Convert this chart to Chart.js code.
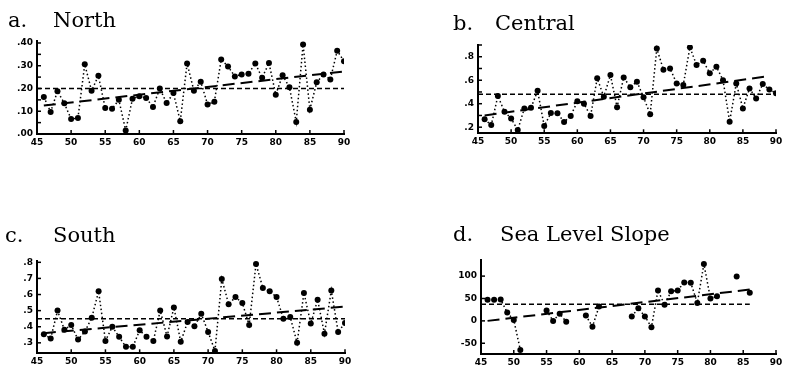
<!DOCTYPE html>
<html><head><meta charset="utf-8">
<script src="https://cdn.jsdelivr.net/npm/chart.js@4.4.0/dist/chart.umd.min.js"></script>
<style>
html,body{margin:0;padding:0;background:#fff;width:786px;height:371px;overflow:hidden;position:relative;}
canvas{position:absolute;}
.t{position:absolute;font-family:"DejaVu Serif",serif;font-size:21px;color:#000;line-height:1;white-space:nowrap;z-index:2;}
</style></head><body>
<div class="t" style="left:8px;top:10px">a.</div>
<div class="t" style="left:53px;top:10px">North</div>
<div class="t" style="left:453px;top:13px">b.</div>
<div class="t" style="left:495px;top:13px">Central</div>
<div class="t" style="left:5px;top:225px">c.</div>
<div class="t" style="left:53px;top:225px">South</div>
<div class="t" style="left:453px;top:224px">d.</div>
<div class="t" style="left:500px;top:224px">Sea Level Slope</div>
<canvas id="cA" width="393" height="135" style="left:0;top:25px"></canvas>
<canvas id="cB" width="393" height="130" style="left:393px;top:30px"></canvas>
<canvas id="cC" width="393" height="126" style="left:0;top:245px"></canvas>
<canvas id="cD" width="393" height="126" style="left:393px;top:245px"></canvas>
<script>
// ---- data ----
const years = [46,47,48,49,50,51,52,53,54,55,56,57,58,59,60,61,62,63,64,65,66,67,68,69,70,71,72,73,74,75,76,77,78,79,80,81,82,83,84,85,86,87,88,89,90];
const north = [0.163,0.097,0.188,0.135,0.066,0.070,0.306,0.190,0.256,0.114,0.111,0.150,0.015,0.155,0.166,0.158,0.119,0.200,0.136,0.180,0.056,0.310,0.190,0.230,0.130,0.142,0.327,0.297,0.253,0.262,0.265,0.310,0.247,0.312,0.173,0.258,0.205,0.053,0.393,0.107,0.227,0.262,0.240,0.366,0.320];
const central = [0.267,0.218,0.465,0.332,0.275,0.176,0.360,0.365,0.510,0.210,0.320,0.318,0.245,0.295,0.420,0.400,0.295,0.616,0.460,0.644,0.370,0.624,0.540,0.588,0.454,0.310,0.870,0.690,0.700,0.573,0.560,0.880,0.730,0.766,0.660,0.715,0.600,0.247,0.573,0.360,0.530,0.445,0.567,0.520,0.490];
const south = [0.353,0.327,0.500,0.382,0.410,0.320,0.370,0.456,0.620,0.312,0.400,0.337,0.275,0.275,0.378,0.337,0.312,0.500,0.340,0.520,0.306,0.430,0.403,0.480,0.368,0.250,0.697,0.540,0.584,0.547,0.410,0.790,0.640,0.620,0.584,0.450,0.460,0.300,0.610,0.420,0.567,0.357,0.625,0.368,0.423];
const seaSlope = [47,47,48,18.5,2,-65,null,null,null,23,0,16,-2,null,null,12,-13,32,null,null,null,null,10,28,10,-14,68,36,66,68,86,85,40,127,50,55,null,null,99,null,63,null,null,null,null];

const northMean = 0.20,  northMeanSpan = [45, 90];
const centralMean = 0.48, centralMeanSpan = [45, 90];
const southMean = 0.45, southMeanSpan = [45, 90];
const slopeMean = 37, slopeMeanSpan = [45, 86];

const northTrend = [0.125, 0.275], northTrendSpan = [46, 90];
const centralTrend = [0.30, 0.635], centralTrendSpan = [46, 89];
const southTrend = [0.36, 0.525], southTrendSpan = [46, 90];
const slopeTrend = [0, 70], slopeTrendSpan = [46, 86];

const xTicks = [45,50,55,60,65,70,75,80,85,90];
const northTicks = [0, 0.1, 0.2, 0.3, 0.4];
const northMinor = [0, 0.05, 0.1, 0.15, 0.2, 0.25, 0.3, 0.35, 0.4];
const centralTicks = [0.2, 0.4, 0.6, 0.8];
const centralMinor = [0.2, 0.3, 0.4, 0.5, 0.6, 0.7, 0.8, 0.9];
const southTicks = [0.3, 0.4, 0.5, 0.6, 0.7, 0.8];
const slopeTicks = [-50, 0, 50, 100];

// ---- drawing ----
const innerTicks = {
  id: 'innerTicks',
  afterDatasetsDraw(chart, args, opts) {
    const {ctx, chartArea: a, scales: {x, y}} = chart;
    ctx.save();
    ctx.strokeStyle = '#000';
    ctx.lineWidth = 1.5;
    (opts.y || []).forEach(v => {
      const py = y.getPixelForValue(v);
      ctx.beginPath(); ctx.moveTo(a.left, py); ctx.lineTo(a.left + 4, py); ctx.stroke();
    });
    (opts.x || []).forEach(v => {
      const px = x.getPixelForValue(v);
      ctx.beginPath(); ctx.moveTo(px, a.bottom); ctx.lineTo(px, a.bottom - 4); ctx.stroke();
    });
    ctx.restore();
  }
};

const tickFont = {family: 'DejaVu Sans', weight: 'bold', size: 9};

function makePanel(id, g) {
  const pts = years.map((yr, i) => ({x: yr, y: g.values[i]}));
  new Chart(document.getElementById(id), {
    type: 'line',
    data: {
      datasets: [
        {data: pts, borderColor: '#000', backgroundColor: '#000', borderWidth: 1.5,
         borderDash: [1.5, 2.5], pointRadius: 3, pointBorderWidth: 0, pointBackgroundColor: '#000',
         spanGaps: g.span, tension: 0},
        {data: [{x: g.meanSpan[0], y: g.mean}, {x: g.meanSpan[1], y: g.mean}],
         borderColor: '#000', borderWidth: 1.6, borderDash: [5, 3], pointRadius: 0},
        {data: [{x: g.trendSpan[0], y: g.trend[0]}, {x: g.trendSpan[1], y: g.trend[1]}],
         borderColor: '#000', borderWidth: 2, borderDash: [12, 6], pointRadius: 0}
      ]
    },
    options: {
      responsive: false, animation: false, events: [],
      layout: {padding: {top: g.padTop, right: g.padRight, left: 0, bottom: 0}},
      plugins: {legend: {display: false}, tooltip: {enabled: false}, innerTicks: {x: xTicks, y: g.minor}},
      scales: {
        x: {type: 'linear', min: 45, max: 90,
            afterBuildTicks: s => { s.ticks = xTicks.map(v => ({value: v})); },
            afterFit: s => { s.height = g.xh; },
            grid: {display: false, drawTicks: false},
            border: {display: true, color: '#000', width: 2},
            ticks: {padding: 3, color: '#000', font: tickFont, maxRotation: 0, autoSkip: false}},
        y: {type: 'linear', min: g.min, max: g.max,
            afterBuildTicks: s => { s.ticks = g.ticks.map(v => ({value: v})); },
            afterFit: s => { s.width = g.yw; },
            grid: {display: false, drawTicks: false},
            border: {display: true, color: '#000', width: 2},
            ticks: {padding: 4, color: '#000', font: tickFont, autoSkip: false, callback: g.fmt}}
      }
    },
    plugins: [innerTicks]
  });
}

const fmt2 = v => v.toFixed(2).replace(/^0/, '');
const fmt1 = v => v.toFixed(1).replace(/^0/, '');
const fmt0 = v => String(v);

makePanel('cA', {values: north, span: false, mean: northMean, meanSpan: northMeanSpan, trend: northTrend, trendSpan: northTrendSpan,
  min: 0, max: 0.41, ticks: northTicks, minor: northMinor, fmt: fmt2, padTop: 15.7, padRight: 49, yw: 37, xh: 26});
makePanel('cB', {values: central, span: false, mean: centralMean, meanSpan: centralMeanSpan, trend: centralTrend, trendSpan: centralTrendSpan,
  min: 0.148, max: 0.9, ticks: centralTicks, minor: centralMinor, fmt: fmt1, padTop: 15, padRight: 10, yw: 85, xh: 26.7});
makePanel('cC', {values: south, span: false, mean: southMean, meanSpan: southMeanSpan, trend: southTrend, trendSpan: southTrendSpan,
  min: 0.235, max: 0.81, ticks: southTicks, minor: southTicks, fmt: fmt1, padTop: 15.7, padRight: 48, yw: 37, xh: 17.7});
makePanel('cD', {values: seaSlope, span: false, mean: slopeMean, meanSpan: slopeMeanSpan, trend: slopeTrend, trendSpan: slopeTrendSpan,
  min: -74, max: 136, ticks: slopeTicks, minor: slopeTicks, fmt: fmt0, padTop: 15, padRight: 10, yw: 88, xh: 17});
</script>
</body></html>
